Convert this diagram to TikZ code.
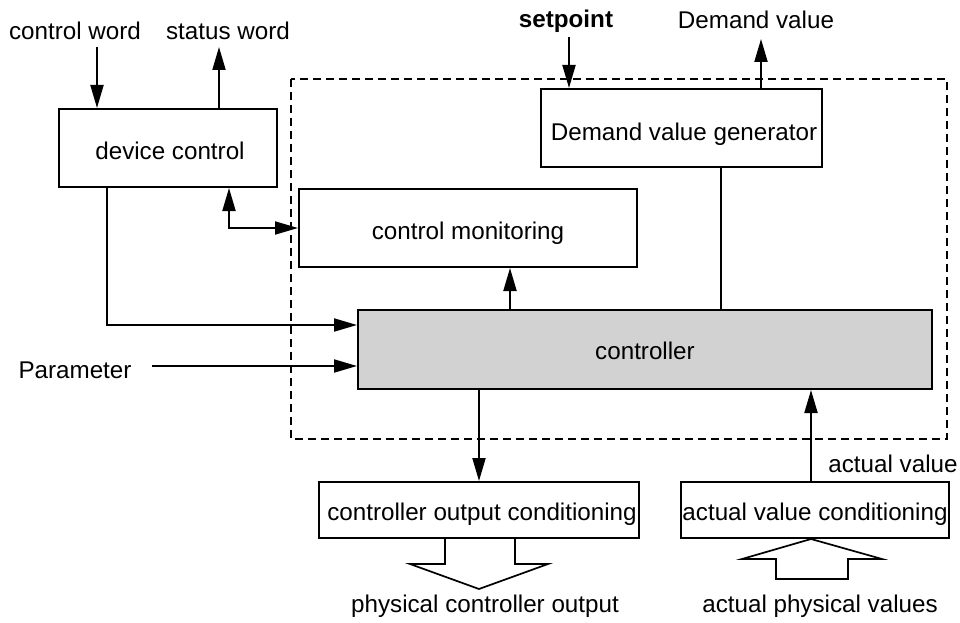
\documentclass[tikz,border=0pt]{standalone}
\usepackage{fontspec}
\setmainfont{Liberation Sans}
\usetikzlibrary{arrows.meta}
\begin{document}
\begin{tikzpicture}[x=1pt,y=-1pt,
  every node/.style={font=\fontsize{24.2}{29}\selectfont},
  block/.style={draw,line width=2pt,inner sep=0pt,align=center},
  lbl/.style={anchor=base,inner sep=0pt},
  flow/.style={line width=2pt,-{Triangle[length=23pt,width=13pt]}},
  bothflow/.style={line width=2pt,{Triangle[length=23pt,width=13pt]}-{Triangle[length=23pt,width=13pt]}},
  plain/.style={line width=2pt},
  fatarrow/.style={draw,line width=1.7pt,fill=white}]
\useasboundingbox (0,0) rectangle (960,623);

% control loop boundary
\draw[line width=1.6pt,dash pattern=on 8pt off 5pt] (291,79) rectangle (947,439);

% blocks
\node[block,minimum width=218pt,minimum height=78pt] (dc) at (168,148) {};
\node[lbl] at (170,159) {device control};
\node[block,minimum width=338pt,minimum height=78pt] (mon) at (468,228) {};
\node[lbl] at (468,239) {control monitoring};
\node[block,minimum width=281pt,minimum height=78pt] (dvg) at (681.5,128) {};
\node[lbl] at (684,140) {Demand value generator};
\node[block,fill=gray!35,minimum width=574pt,minimum height=79pt] (ctrl) at (645,349.5) {};
\node[lbl] at (645,359) {controller};
\node[block,minimum width=320pt,minimum height=56pt] (oc) at (479,510) {};
\node[lbl] at (482,520) {controller output conditioning};
\node[block,minimum width=268pt,minimum height=56pt] (ac) at (815,510) {};
\node[lbl] at (815,520) {actual value conditioning};

% free labels
\node[lbl] (cwl) at (75,40) {control word};
\node[lbl] (swl) at (228,40) {status word};
\node[lbl] (spl) at (566,28) {\bfseries setpoint};
\node[lbl] (dvl) at (756,29) {Demand value};
\node[lbl] (parl) at (75,378) {Parameter};
\node[lbl] (avl) at (893,472) {actual value};
\node[lbl] (pcl) at (485,612) {physical controller output};
\node[lbl] (apl) at (820,612) {actual physical values};

% connector ends
\coordinate (cw) at (97,47);
\coordinate (sw) at (219,47);
\coordinate (sp) at (569,37);
\coordinate (dv) at (761,39);
\coordinate (par) at (152,366);
\coordinate (dcdown) at (107,325);
\coordinate (dcmon) at (229,229);

% connectors
\draw[flow] (cw) -- (cw |- dc.north);
\draw[flow] (sw |- dc.north) -- (sw);
\draw[flow] (sp) -- (sp |- dvg.north);
\draw[flow] (dv |- dvg.north) -- (dv);
\draw[bothflow] (dc.south -| dcmon) |- (mon.west);
\draw[flow] (dc.south -| dcdown) |- (ctrl.west |- dcdown);
\draw[flow] (par) -- (ctrl.west |- par);
\draw[flow] (ctrl.north -| 510,0) -- (mon.south -| 510,0);
\draw[plain] (dvg.south -| 721,0) -- (ctrl.north -| 721,0);
\draw[flow] (ctrl.south -| oc.north) -- (oc.north);
\draw[flow] (ac.north -| 811,0) -- (ctrl.south -| 811,0);

% wide process arrows
\draw[fatarrow] (445,539) -- (445,564) -- (410,564) -- (479,589) -- (548,564) -- (515,564) -- (515,539);
\draw[fatarrow] (811,539) -- (742,559) -- (776,559) -- (776,579) -- (848,579) -- (848,559) -- (882,559) -- cycle;
\end{tikzpicture}
\end{document}
